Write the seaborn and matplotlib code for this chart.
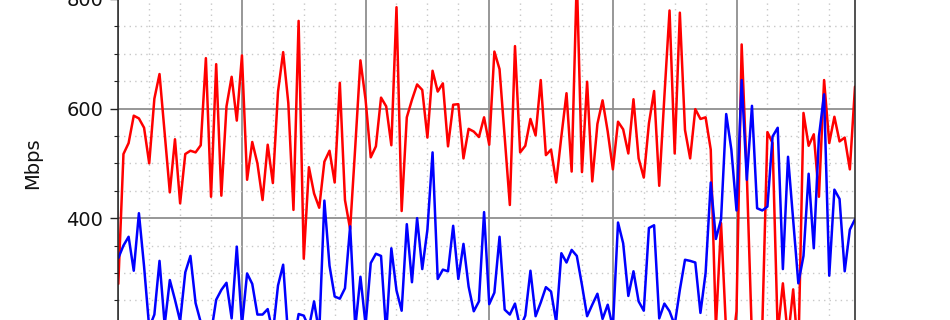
import numpy as np
import pandas as pd
import matplotlib
matplotlib.use("Agg")
import matplotlib.pyplot as plt
from matplotlib.ticker import MultipleLocator
import seaborn as sns

# ---- data ----
red_values = [
    280, 517, 537, 587, 582, 565, 500, 618, 663, 555,
    447, 544, 427, 517, 523, 520, 533, 692, 439, 681,
    441, 604, 658, 578, 697, 470, 539, 500, 433, 534,
    464, 631, 703, 610, 415, 760, 326, 493, 445, 419,
    503, 523, 465, 647, 433, 380, 531, 688, 616, 511,
    531, 620, 604, 533, 785, 413, 584, 616, 644, 634,
    547, 669, 631, 646, 531, 607, 608, 509, 563, 558,
    548, 584, 534, 704, 672, 549, 424, 714, 520, 532,
    581, 551, 652, 515, 525, 465, 549, 628, 485, 840,
    484, 649, 467, 572, 615, 558, 489, 576, 562, 518,
    617, 509, 474, 573, 632, 459, 622, 779, 518, 775,
    561, 509, 599, 581, 584, 525, 200, 391, 190, 150,
    230, 717, 480, 180, 170, 200, 557, 537, 190, 281,
    180, 270, 150, 592, 532, 553, 439, 652, 537, 585,
    540, 547, 489, 640,
]
blue_values = [
    327, 350, 366, 304, 409, 312, 200, 224, 322, 205,
    287, 251, 212, 301, 331, 245, 210, 180, 190, 251,
    269, 282, 217, 348, 205, 299, 280, 224, 224, 234,
    190, 277, 315, 180, 170, 225, 222, 200, 248, 190,
    432, 313, 257, 253, 272, 385, 200, 293, 205, 318,
    335, 331, 190, 345, 268, 231, 389, 283, 400, 307,
    379, 520, 289, 306, 303, 386, 289, 353, 275, 230,
    248, 411, 243, 264, 366, 233, 224, 244, 200, 222,
    304, 221, 246, 274, 266, 210, 336, 319, 342, 331,
    278, 221, 242, 262, 216, 242, 200, 392, 354, 258,
    303, 248, 231, 382, 387, 217, 244, 230, 205, 269,
    324, 322, 319, 227, 300, 465, 362, 398, 590, 525,
    414, 652, 470, 605, 418, 414, 421, 549, 565, 307,
    512, 397, 281, 331, 481, 345, 549, 626, 295, 452,
    435, 303, 379, 398,
]
sample_index = list(range(len(red_values)))
series_names = ["red", "blue"]
y_label = "Mbps"

df = pd.DataFrame({
    "t": sample_index * 2,
    "Mbps": red_values + blue_values,
    "series": [series_names[0]] * len(red_values) + [series_names[1]] * len(blue_values),
})

sns.set_style("white")
plt.rcParams["font.family"] = ["DejaVu Sans"]

fig = plt.figure(figsize=(9.5, 3.2), dpi=100)
ax = fig.add_axes([0.12453, -0.1953, 0.77547, 1.3697])

sns.lineplot(data=df, x="t", y="Mbps", hue="series",
             palette={"red": "#ff0000", "blue": "#0000ff"},
             estimator=None, linewidth=1.8, legend=False, ax=ax, sort=False)

ax.set_xlim(0, len(red_values) - 1)
ax.set_ylim(100, 900)
ax.xaxis.set_major_locator(MultipleLocator(24))
ax.xaxis.set_minor_locator(MultipleLocator(6))
ax.yaxis.set_major_locator(MultipleLocator(200))
ax.yaxis.set_minor_locator(MultipleLocator(50))

ax.grid(which="major", color="#8f8f8f", linewidth=1.3, linestyle="-")
ax.grid(which="minor", color="#c8c8c8", linewidth=1.0, linestyle=(0, (1, 3)))
ax.set_axisbelow(True)

for s in ["left", "right", "top", "bottom"]:
    ax.spines[s].set_color("#222222")
    ax.spines[s].set_linewidth(1.1)
    ax.spines[s].set_visible(True)

ax.tick_params(axis="y", which="major", direction="out", length=5.5, width=1.0,
               pad=5.5, labelsize=14, left=True, colors="#222222", labelcolor="#111111")
ax.tick_params(axis="y", which="minor", direction="out", length=3, width=0.8,
               left=True, colors="#222222")
ax.tick_params(axis="x", which="both", bottom=True, labelsize=14)

ax.set_xlabel("")
ax.set_ylabel(y_label, fontsize=14, color="#111111")
ax.yaxis.set_label_coords(-0.1036, 0.5)

fig.savefig("out.png", dpi=100)
